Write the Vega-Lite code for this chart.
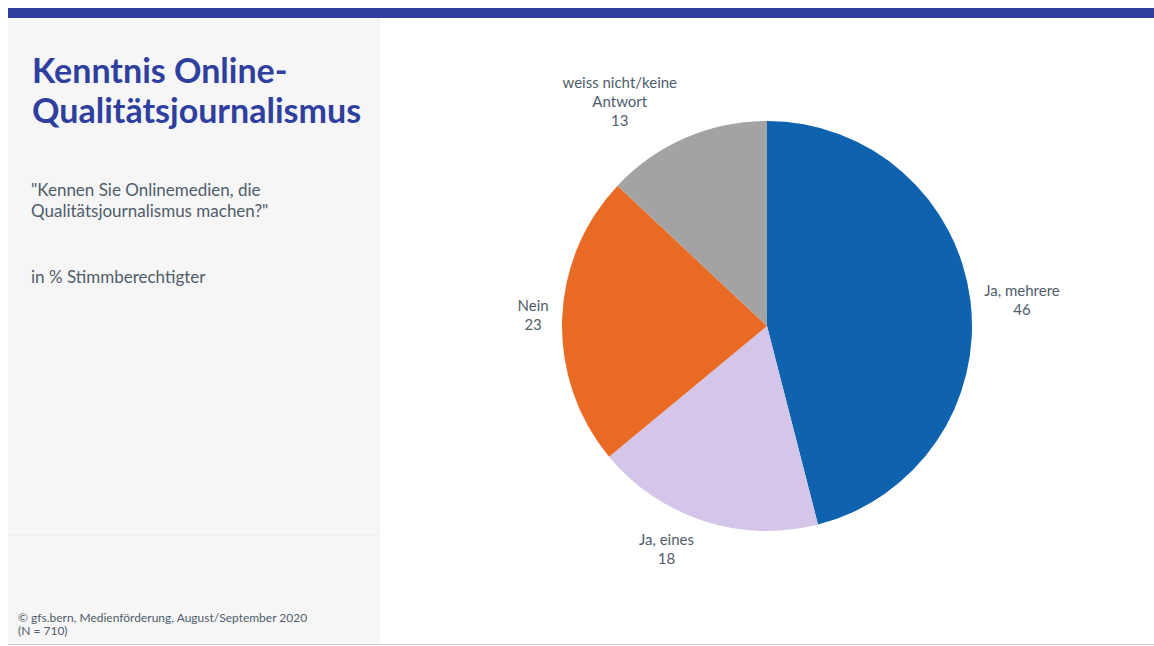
{
  "$schema": "https://vega.github.io/schema/vega-lite/v6.json",
  "width": 1154,
  "height": 646,
  "autosize": {"type": "fit", "contains": "padding"},
  "padding": 0,
  "background": "#ffffff",
  "config": {"view": {"stroke": null}, "font": "Lato"},
  "datasets": {
    "antworten": [
      {"kategorie": "Ja, mehrere", "wert": 46, "reihenfolge": 1},
      {"kategorie": "Ja, eines", "wert": 18, "reihenfolge": 2},
      {"kategorie": "Nein", "wert": 23, "reihenfolge": 3},
      {"kategorie": "weiss nicht/keine Antwort", "wert": 13, "reihenfolge": 4}
    ]
  },
  "layer": [
    {
      "data": {"values": [{}]},
      "mark": {"type": "rect", "x": 8, "x2": 380, "y": 18, "y2": 644, "fill": "#f6f6f6"},
      "encoding": {}
    },
    {
      "data": {"values": [{}]},
      "mark": {"type": "rect", "x": 8, "x2": 1154, "y": 8, "y2": 18, "fill": "#2f3f9e"},
      "encoding": {}
    },
    {
      "data": {"values": [{}]},
      "mark": {"type": "rect", "x": 8, "x2": 1154, "y": 644, "y2": 645, "fill": "#cccccc"},
      "encoding": {}
    },
    {
      "data": {"values": [{}]},
      "mark": {"type": "rect", "x": 8, "x2": 380, "y": 535, "y2": 536, "fill": "#f0f0f0"},
      "encoding": {}
    },
    {
      "data": {"values": [{"t": "Kenntnis Online-\nQualitätsjournalismus"}]},
      "mark": {"type": "text", "x": 32, "y": 83, "align": "left", "baseline": "alphabetic", "fontSize": 34, "fontWeight": "bold", "lineHeight": 40, "lineBreak": "\n", "color": "#2f3f9e"},
      "encoding": {"text": {"field": "t"}}
    },
    {
      "data": {"values": [{"t": "\"Kennen Sie Onlinemedien, die\nQualitätsjournalismus machen?\""}]},
      "mark": {"type": "text", "x": 31, "y": 196, "align": "left", "baseline": "alphabetic", "fontSize": 17, "lineHeight": 21, "lineBreak": "\n", "color": "#4f5d6b"},
      "encoding": {"text": {"field": "t"}}
    },
    {
      "data": {"values": [{"t": "in % Stimmberechtigter"}]},
      "mark": {"type": "text", "x": 31, "y": 283, "align": "left", "baseline": "alphabetic", "fontSize": 17, "color": "#4f5d6b"},
      "encoding": {"text": {"field": "t"}}
    },
    {
      "data": {"values": [{"t": "© gfs.bern, Medienförderung, August/September 2020\n(N = 710)"}]},
      "mark": {"type": "text", "x": 18, "y": 622, "align": "left", "baseline": "alphabetic", "fontSize": 12, "lineHeight": 13, "lineBreak": "\n", "color": "#4f5d6b"},
      "encoding": {"text": {"field": "t"}}
    },
    {
      "data": {"name": "antworten"},
      "mark": {"type": "arc", "outerRadius": 205, "x": 767, "y": 326},
      "encoding": {
        "theta": {"field": "wert", "type": "quantitative", "stack": true, "scale": {"domain": [0, 100]}},
        "order": {"field": "reihenfolge", "type": "quantitative"},
        "color": {
          "field": "kategorie",
          "type": "nominal",
          "scale": {
            "domain": ["Ja, mehrere", "Ja, eines", "Nein", "weiss nicht/keine Antwort"],
            "range": ["#0e62ae", "#d3c6e8", "#e86a24", "#a3a3a3"]
          },
          "legend": null
        }
      }
    },
    {
      "data": {"name": "antworten"},
      "transform": [
        {"stack": "wert", "groupby": [], "sort": [{"field": "reihenfolge"}], "as": ["t0", "t1"]},
        {"calculate": "(datum.t0 + datum.t1) / 2", "as": "tmitte"},
        {"calculate": "replace(datum.kategorie, 'keine ', 'keine\\n') + '\\n' + datum.wert", "as": "beschriftung"}
      ],
      "encoding": {
        "theta": {"field": "tmitte", "type": "quantitative", "scale": {"domain": [0, 100]}},
        "text": {"field": "beschriftung"}
      },
      "layer": [
        {
          "transform": [{"filter": "datum.kategorie == 'Ja, mehrere'"}],
          "mark": {"type": "text", "x": 767, "y": 326, "radius": 257, "dy": -3, "align": "center", "baseline": "middle", "fontSize": 15, "lineHeight": 19, "lineBreak": "\n", "color": "#4f5d6b"}
        },
        {
          "transform": [{"filter": "datum.kategorie == 'Nein'"}],
          "mark": {"type": "text", "x": 767, "y": 326, "radius": 234, "dy": -13, "align": "center", "baseline": "middle", "fontSize": 15, "lineHeight": 19, "lineBreak": "\n", "color": "#4f5d6b"}
        },
        {
          "transform": [{"filter": "datum.kategorie == 'Ja, eines'"}],
          "mark": {"type": "text", "x": 767, "y": 326, "radius": 225, "dx": -31, "align": "center", "baseline": "middle", "fontSize": 15, "lineHeight": 19, "lineBreak": "\n", "color": "#4f5d6b"}
        },
        {
          "transform": [{"filter": "datum.kategorie == 'weiss nicht/keine Antwort'"}],
          "mark": {"type": "text", "x": 767, "y": 326, "radius": 265, "dx": -42, "align": "center", "baseline": "middle", "fontSize": 15, "lineHeight": 19, "lineBreak": "\n", "color": "#4f5d6b"}
        }
      ]
    }
  ]
}
